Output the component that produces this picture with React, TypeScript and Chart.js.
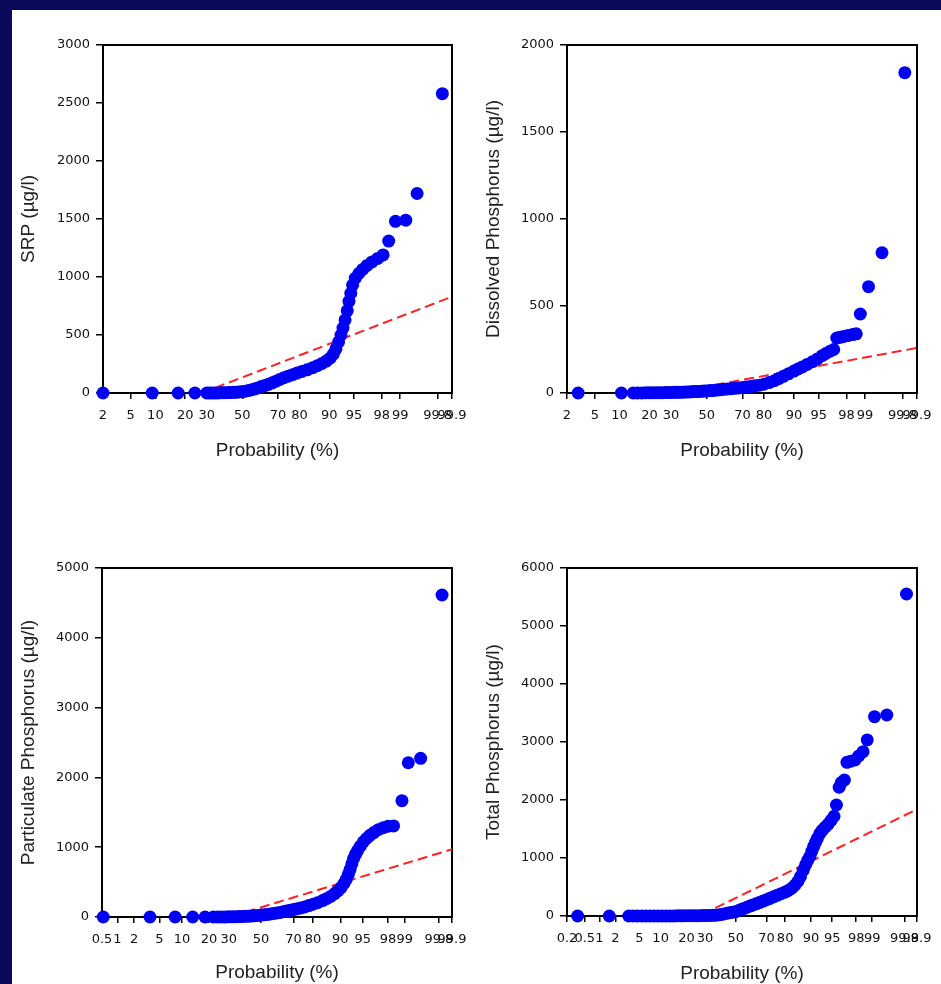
import React, { useEffect, useRef } from "react";
import { Chart, registerables } from "chart.js";
Chart.register(...registerables);

// ---------------- data (probability %, value µg/l) ----------------
const srpProb = [2, 9.2, 17.2, 24.2, 30, 31.5, 33, 34.5, 36, 37.5, 39, 40.5, 42, 43.5, 45, 46.5, 48, 49.5, 51, 53, 55, 57, 59, 61, 63, 65, 67, 69, 71, 73, 75, 77, 79, 81, 83, 85, 86.5, 88, 89.2, 90.2, 91, 91.6, 92.2, 92.7, 93.1, 93.5, 93.9, 94.2, 94.5, 94.8, 95.2, 95.7, 96.2, 96.7, 97.2, 97.7, 98.1, 98.45, 98.8, 99.2, 99.5, 99.84];
const srpValue = [0, 0, 0, 0, 0, 0, 0, 1, 1, 2, 2, 3, 4, 5, 6, 7, 9, 11, 14, 20, 26, 34, 44, 55, 64, 75, 88, 102, 117, 132, 145, 158, 172, 186, 200, 218, 235, 255, 275, 300, 335, 380, 440, 500, 560, 630, 710, 790, 860, 930, 990, 1030, 1065, 1100, 1130, 1160, 1190, 1310, 1480, 1490, 1720, 2580];

const dpProb = [2.94, 10.5, 14, 15.5, 17, 18.5, 20, 21.5, 23, 24.5, 26, 27.5, 29, 30.5, 32, 33.5, 35, 36.5, 38, 39.5, 41, 42.5, 44, 45.5, 47, 48.5, 50, 52, 54, 56, 58, 60, 62, 64, 66, 68, 70, 72, 74, 76, 78, 80, 82, 84, 85.5, 87, 88.5, 90, 91, 92, 93, 94, 94.8, 95.5, 96, 96.5, 96.9, 97.2, 97.5, 97.8, 98.1, 98.4, 98.6, 98.8, 99.13, 99.5, 99.82];
const dpValue = [0, 0, 0, 0, 0, 1, 1, 1, 2, 2, 2, 3, 3, 3, 4, 4, 5, 5, 6, 6, 7, 8, 8, 9, 10, 11, 12, 14, 15, 17, 19, 21, 23, 25, 27, 29, 31, 34, 37, 41, 45, 51, 60, 71, 83, 96, 110, 126, 138, 150, 164, 180, 196, 214, 227, 240, 250, 316, 320, 325, 330, 336, 340, 454, 611, 806, 1841];

const ppProb = [0.53, 3.6, 8.2, 13.4, 18.2, 22, 24, 26, 28, 30, 32, 34, 36, 38, 40, 42, 44, 46, 48, 50, 52, 54, 56, 58, 60, 62, 64, 66, 68, 70, 72, 74, 76, 78, 80, 82, 84, 85.5, 87, 88.3, 89.3, 90.2, 91, 91.6, 92.1, 92.5, 92.9, 93.3, 93.7, 94.1, 94.6, 95.1, 95.6, 96.1, 96.6, 97.1, 97.6, 98.0, 98.4, 98.87, 99.14, 99.51, 99.83];
const ppValue = [0, 0, 0, 0, 0, 0, 0, 0, 1, 2, 3, 4, 6, 8, 10, 12, 15, 18, 22, 27, 32, 37, 43, 50, 58, 66, 75, 85, 96, 107, 118, 130, 145, 163, 183, 205, 235, 262, 295, 335, 375, 420, 480, 540, 610, 680, 760, 840, 900, 955, 1015, 1075, 1125, 1170, 1210, 1250, 1280, 1300, 1305, 1667, 2210, 2273, 4613];

const tpProb = [0.35, 1.55, 3.4, 4, 4.7, 5.5, 6.3, 7.2, 8.2, 9.3, 10.5, 11.8, 13.1, 14.6, 16.1, 17.7, 19.4, 21.2, 23, 24.9, 26.8, 28.8, 30.8, 32.8, 34.9, 37, 39.1, 41.2, 43.4, 45.6, 47.8, 50, 52, 54, 56, 58, 60, 62, 64, 66, 68, 70, 72, 74, 76, 78, 80, 81.5, 83, 84.3, 85.5, 86.5, 87.5, 88.3, 89, 89.7, 90.3, 90.8, 91.3, 91.8, 92.4, 93, 93.6, 94.2, 94.8, 95.3, 95.7, 96.1, 96.4, 96.8, 97.1, 97.5, 97.9, 98.2, 98.5, 98.75, 99.1, 99.5, 99.82];
const tpValue = [0, 0, 0, 0, 0, 0, 0, 0, 1, 1, 1, 2, 2, 2, 3, 3, 4, 4, 5, 5, 6, 7, 8, 9, 11, 15, 22, 32, 44, 55, 66, 75, 95, 115, 135, 155, 175, 195, 215, 235, 257, 280, 305, 330, 357, 385, 412, 440, 478, 530, 595, 680, 790, 880, 960, 1030, 1120, 1200, 1270, 1340, 1420, 1480, 1530, 1580, 1650, 1720, 1914, 2220, 2300, 2345, 2650, 2670, 2690, 2760, 2833, 3035, 3437, 3466, 5552];

// fitted normal line (mean, standard deviation) per panel
const fitMeans = [135, 38, 139, 310];
const fitSDs = [225, 71.5, 269, 495];

// axis settings
const yTitles = ["SRP (µg/l)", "Dissolved Phosphorus (µg/l)", "Particulate Phosphorus (µg/l)", "Total Phosphorus (µg/l)"];
const yMaxes = [3000, 2000, 5000, 6000];
const ySteps = [500, 500, 1000, 1000];
const xMinProbs = [2, 2, 0.5, 0.2];
const xMaxProb = 99.9;
const probTicksA = [2, 5, 10, 20, 30, 50, 70, 80, 90, 95, 98, 99, 99.8, 99.9];
const probTicksB = [0.5, 1, 2, 5, 10, 20, 30, 50, 70, 80, 90, 95, 98, 99, 99.8, 99.9];
const probTicksC = [0.2, 0.5, 1, 2, 5, 10, 20, 30, 50, 70, 80, 90, 95, 98, 99, 99.8, 99.9];

// inverse standard normal (probability-paper scale transform)
function probit(pct: number): number {
  const p = pct / 100;
  const a = [-3.969683028665376e1, 2.209460984245205e2, -2.759285104469687e2, 1.38357751867269e2, -3.066479806614716e1, 2.506628277459239];
  const b = [-5.447609879822406e1, 1.615858368580409e2, -1.556989798598866e2, 6.680131188771972e1, -1.328068155288572e1];
  const c = [-7.784894002430293e-3, -3.223964580411365e-1, -2.400758277161838, -2.549732539343734, 4.374664141464968, 2.938163982698783];
  const d = [7.784695709041462e-3, 3.224671290700398e-1, 2.445134137142996, 3.754408661907416];
  const plow = 0.02425;
  if (p < plow) {
    const q = Math.sqrt(-2 * Math.log(p));
    return (((((c[0] * q + c[1]) * q + c[2]) * q + c[3]) * q + c[4]) * q + c[5]) / ((((d[0] * q + d[1]) * q + d[2]) * q + d[3]) * q + 1);
  }
  if (p <= 1 - plow) {
    const q = p - 0.5;
    const r = q * q;
    return ((((((a[0] * r + a[1]) * r + a[2]) * r + a[3]) * r + a[4]) * r + a[5]) * q) / (((((b[0] * r + b[1]) * r + b[2]) * r + b[3]) * r + b[4]) * r + 1);
  }
  const q = Math.sqrt(-2 * Math.log(1 - p));
  return -(((((c[0] * q + c[1]) * q + c[2]) * q + c[3]) * q + c[4]) * q + c[5]) / ((((d[0] * q + d[1]) * q + d[2]) * q + d[3]) * q + 1);
}

const seriesProbs = [srpProb, dpProb, ppProb, tpProb];
const seriesValues = [srpValue, dpValue, ppValue, tpValue];
const seriesTicks = [probTicksA, probTicksA, probTicksB, probTicksC];

// layout of each panel (page px)
const layouts = [
  { left: 12, top: 10, w: 458, h: 470, padTop: 35, padRight: 18, yW: 91, xH: 87, xtPad: 19.5, ytPad: 6.8 },
  { left: 470, top: 10, w: 471, h: 470, padTop: 35, padRight: 24, yW: 97, xH: 87, xtPad: 19.5, ytPad: 14.5 },
  { left: 12, top: 490, w: 458, h: 494, padTop: 78, padRight: 18, yW: 90, xH: 67, xtPad: 1.5, ytPad: 6.8 },
  { left: 470, top: 490, w: 471, h: 494, padTop: 78, padRight: 24, yW: 97, xH: 68, xtPad: 1, ytPad: 14.5 },
];

const framePlugin = {
  id: "frame",
  beforeDatasetsDraw(chart: any) {
    const { ctx, chartArea: a } = chart;
    ctx.save();
    ctx.strokeStyle = "#000";
    ctx.lineWidth = 2;
    ctx.strokeRect(a.left, a.top, a.right - a.left, a.bottom - a.top);
    ctx.restore();
  },
};

function Panel({ idx }: { idx: number }) {
  const ref = useRef<HTMLCanvasElement | null>(null);
  const L = layouts[idx];
  useEffect(() => {
    if (!ref.current) return;
    const probs = seriesProbs[idx];
    const vals = seriesValues[idx];
    const ticksP = seriesTicks[idx];
    const tickLabels = ticksP.map((p) => String(p));
    const zMin = probit(xMinProbs[idx]);
    const zMax = probit(xMaxProb);
    const pts = probs.map((p, i) => ({ x: probit(p), y: vals[i] }));
    const m = fitMeans[idx];
    const s = fitSDs[idx];
    const fit = [
      { x: zMin, y: m + s * zMin },
      { x: zMax, y: m + s * zMax },
    ];
    const chart = new Chart(ref.current, {
      type: "scatter",
      data: {
        datasets: [
          {
            type: "scatter",
            data: pts,
            pointRadius: 6.5,
            pointHoverRadius: 6.5,
            backgroundColor: "#0000f5",
            borderWidth: 0,
            clip: false,
            order: 1,
          } as any,
          {
            type: "line",
            data: fit,
            showLine: true,
            borderColor: "#ff2020",
            borderWidth: 2,
            borderDash: [10, 5],
            pointRadius: 0,
            fill: false,
            order: 2,
          } as any,
        ],
      },
      options: {
        responsive: false,
        animation: false,
        devicePixelRatio: 1,
        layout: { padding: { top: L.padTop, right: L.padRight, left: 0, bottom: 0 } },
        plugins: { legend: { display: false }, tooltip: { enabled: false } },
        scales: {
          x: {
            type: "linear",
            bounds: "data",
            min: zMin,
            max: zMax,
            afterBuildTicks: (scale: any) => {
              scale.ticks = ticksP.map((p) => ({ value: probit(p) }));
            },
            afterFit: (scale: any) => {
              scale.height = L.xH;
              scale.paddingLeft = 0;
              scale.paddingRight = 0;
            },
            ticks: {
              autoSkip: false,
              maxRotation: 0,
              minRotation: 0,
              padding: 9,
              color: "#111",
              font: { family: "DejaVu Sans", size: 13 },
              callback: (_v: any, i: number) => tickLabels[i],
            },
            grid: { display: true, drawOnChartArea: false, drawTicks: true, tickLength: 6, color: "#000", lineWidth: 1.5 },
            border: { display: true, color: "#000", width: 2 },
            title: {
              display: true,
              text: "Probability (%)",
              color: "#222",
              font: { family: "Liberation Sans", size: 19, lineHeight: 1 },
              padding: { top: 0, bottom: L.xtPad },
            },
          },
          y: {
            type: "linear",
            min: 0,
            max: yMaxes[idx],
            afterFit: (scale: any) => {
              scale.width = L.yW;
              scale.paddingTop = 0;
              scale.paddingBottom = 0;
            },
            ticks: {
              stepSize: ySteps[idx],
              color: "#111",
              padding: 6,
              font: { family: "DejaVu Sans", size: 13 },
              callback: (v: any) => String(v),
            },
            grid: { display: true, drawOnChartArea: false, drawTicks: true, tickLength: 7, color: "#000", lineWidth: 1.5 },
            border: { display: true, color: "#000", width: 2 },
            title: {
              display: true,
              text: yTitles[idx],
              color: "#222",
              font: { family: "Liberation Sans", size: 19, lineHeight: 1 },
              padding: { top: L.ytPad, bottom: 0 },
            },
          },
        },
      } as any,
      plugins: [framePlugin],
    });
    return () => chart.destroy();
  }, [idx]);
  return (
    <canvas
      ref={ref}
      width={L.w}
      height={L.h}
      style={{ position: "absolute", left: L.left, top: L.top, width: L.w, height: L.h }}
    />
  );
}

export default function App() {
  return (
    <div
      style={{
        position: "fixed",
        left: 0,
        top: 0,
        width: 941,
        height: 984,
        background: "#0a0a5c",
        overflow: "hidden",
      }}
    >
      <div style={{ position: "absolute", left: 12, top: 10, right: 0, bottom: 0, background: "#ffffff" }} />
      {[0, 1, 2, 3].map((i) => (
        <Panel key={i} idx={i} />
      ))}
    </div>
  );
}
